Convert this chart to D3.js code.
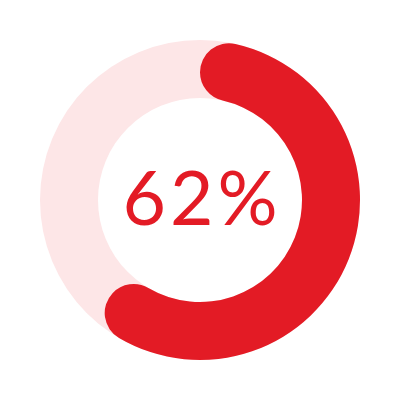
<!DOCTYPE html>
<html>
<head>
<meta charset="utf-8">
<script src="https://cdn.jsdelivr.net/npm/d3@7"></script>
<style>
  html, body { margin: 0; padding: 0; background: #fff; }
  #main { width: 400px; height: 400px; }
</style>
</head>
<body>
<div id="main"></div>
<script>
const value = 62;
const total = 100;
const label = "62%";

const width = 400;
const height = 400;
const outerRadius = 160;
const innerRadius = 102;

const angle = d3.scaleLinear().domain([0, total]).range([0, 2 * Math.PI]);

const svg = d3
  .select("#main")
  .append("svg")
  .attr("width", width)
  .attr("height", height);

const g = svg.append("g").attr("transform", `translate(${width / 2},${height / 2})`);

const arc = d3.arc().innerRadius(innerRadius).outerRadius(outerRadius);

// background track
g.append("path")
  .attr("d", arc({ startAngle: 0, endAngle: 2 * Math.PI }))
  .attr("fill", "#fde6e7");

// progress arc with round ends
g.append("path")
  .attr(
    "d",
    arc.cornerRadius((outerRadius - innerRadius) / 2)({ startAngle: angle(0), endAngle: angle(value) })
  )
  .attr("fill", "#e31b25");

g.append("text")
  .attr("x", 2)
  .attr("y", 25)
  .attr("text-anchor", "middle")
  .style("font-family", "Lato")
  .style("font-weight", 400)
  .style("font-size", "75px")
  .style("letter-spacing", "4px")
  .attr("fill", "#e31b25")
  .text(label);
</script>
</body>
</html>
